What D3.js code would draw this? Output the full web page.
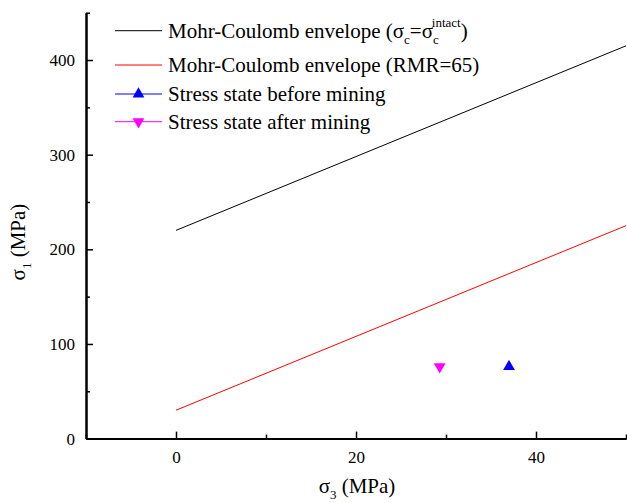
<!DOCTYPE html>
<meta charset="utf-8">
<head>
    <title>Mohr-Coulomb envelopes</title>
    <script src="https://cdn.jsdelivr.net/npm/d3@7"></script>
    <style>
        body { margin: 0; background: #fff; }
    </style>
</head>
<body>
<div id="chart"></div>
<script>
    // data
    var envelopeX = [0, 50];
    var intactY = [220, 415];      // sigma_c = sigma_c intact
    var rmrY = [30, 225];          // RMR = 65
    var beforeX = [37.0], beforeY = [76];
    var afterX = [29.3], afterY = [76];

    var xMajor = [0, 20, 40];
    var xMinor = [-10, 10, 30, 50];
    var yMajor = [0, 100, 200, 300, 400];
    var yMinor = [50, 150, 250, 350, 450];

    var width = 627, height = 503;
    var serif = "'Liberation Serif', 'Times New Roman', 'DejaVu Serif', serif";

    var svg = d3.select("#chart").append("svg")
        .attr("width", width)
        .attr("height", height)
        .attr("font-family", serif)
        .style("font-family", serif);

    var x = d3.scaleLinear().domain([-10, 50]).range([86, 626]);
    var y = d3.scaleLinear().domain([0, 450]).range([438.6, 12.7]);

    // data lines
    var line = d3.line()
        .x(function(d) { return x(d[0]); })
        .y(function(d) { return y(d[1]); });

    svg.append("path")
        .datum(envelopeX.map(function(v, i) { return [v, intactY[i]]; }))
        .attr("d", line)
        .attr("fill", "none")
        .attr("stroke", "#000")
        .attr("stroke-width", 1);

    svg.append("path")
        .datum(envelopeX.map(function(v, i) { return [v, rmrY[i]]; }))
        .attr("d", line)
        .attr("fill", "none")
        .attr("stroke", "#ff0000")
        .attr("stroke-width", 1);

    var tri = d3.symbol().type(d3.symbolTriangle).size(60);

    svg.selectAll(".before")
        .data(beforeX.map(function(v, i) { return [v, beforeY[i]]; }))
        .enter().append("path")
        .attr("class", "before")
        .attr("d", tri)
        .attr("transform", function(d) { return "translate(" + x(d[0]) + "," + y(d[1]) + ")"; })
        .attr("fill", "#0000ff");

    svg.selectAll(".after")
        .data(afterX.map(function(v, i) { return [v, afterY[i]]; }))
        .enter().append("path")
        .attr("class", "after")
        .attr("d", tri)
        .attr("transform", function(d) { return "translate(" + x(d[0]) + "," + y(d[1]) + ") rotate(180)"; })
        .attr("fill", "#ff00ff");

    // axes, ticks pointing inward
    function styleAxis(g) {
        g.attr("font-family", serif).attr("font-size", 17);
        g.select(".domain").attr("stroke", "#000").attr("stroke-width", 2);
        g.selectAll(".tick line").attr("stroke", "#000").attr("stroke-width", 1.5);
        g.selectAll("text").style("font-family", serif).style("font-size", "17px").attr("fill", "#000");
    }

    svg.append("g")
        .attr("transform", "translate(0," + y(0) + ")")
        .call(d3.axisBottom(x).tickValues(xMinor).tickSize(-4).tickSizeOuter(0).tickFormat(""))
        .call(styleAxis);

    svg.append("g")
        .attr("transform", "translate(0," + y(0) + ")")
        .call(d3.axisBottom(x).tickValues(xMajor).tickSize(-7).tickSizeOuter(0).tickPadding(12))
        .call(styleAxis);

    svg.append("g")
        .attr("transform", "translate(" + x(-10) + ",0)")
        .call(d3.axisLeft(y).tickValues(yMinor).tickSize(-4).tickSizeOuter(0).tickFormat(""))
        .call(styleAxis);

    svg.append("g")
        .attr("transform", "translate(" + x(-10) + ",0)")
        .call(d3.axisLeft(y).tickValues(yMajor).tickSize(-7).tickSizeOuter(0).tickPadding(11))
        .call(styleAxis);

    // axis titles
    var xt = svg.append("text")
        .attr("x", 357).attr("y", 493)
        .attr("text-anchor", "middle")
        .style("font-size", "21px");
    xt.append("tspan").text("σ");
    xt.append("tspan").attr("dy", 6).style("font-size", "13px").text("3");
    xt.append("tspan").attr("dy", -6).text(" (MPa)");

    var yt = svg.append("text")
        .attr("transform", "translate(25,242) rotate(-90)")
        .attr("text-anchor", "middle")
        .style("font-size", "21px");
    yt.append("tspan").text("σ");
    yt.append("tspan").attr("dy", 6).style("font-size", "13px").text("1");
    yt.append("tspan").attr("dy", -6).text(" (MPa)");

    // legend
    var legendRows = [
        { y: 30.7, color: "#000", marker: null },
        { y: 65, color: "#ff0000", marker: null },
        { y: 94, color: "#0000ff", marker: "up" },
        { y: 121.7, color: "#ff00ff", marker: "down" }
    ];
    var legend = svg.append("g");
    legendRows.forEach(function(r) {
        legend.append("line")
            .attr("x1", 115).attr("x2", 162)
            .attr("y1", r.y).attr("y2", r.y)
            .attr("stroke", r.color).attr("stroke-width", 1);
        if (r.marker) {
            legend.append("path")
                .attr("d", tri)
                .attr("transform", "translate(138.5," + r.y + ")" + (r.marker === "down" ? " rotate(180)" : ""))
                .attr("fill", r.color);
        }
    });

    var t1 = legend.append("text").attr("x", 168).attr("y", 30.7 + 7).style("font-size", "21px");
    t1.append("tspan").text("Mohr-Coulomb envelope (σ");
    t1.append("tspan").attr("dy", 6).style("font-size", "13px").text("c");
    t1.append("tspan").attr("dy", -6).text("=σ");
    t1.append("tspan").attr("dy", 6).style("font-size", "13px").text("c");
    t1.append("tspan").attr("dx", -7).attr("dy", -17).style("font-size", "13px").text("intact");
    t1.append("tspan").attr("dy", 11).text(")");

    legend.append("text").attr("x", 168).attr("y", 65 + 7).style("font-size", "21px")
        .text("Mohr-Coulomb envelope (RMR=65)");
    legend.append("text").attr("x", 168).attr("y", 94 + 7).style("font-size", "21px")
        .text("Stress state before mining");
    legend.append("text").attr("x", 168).attr("y", 121.7 + 7).style("font-size", "21px")
        .text("Stress state after mining");
</script>
</body>
</html>
